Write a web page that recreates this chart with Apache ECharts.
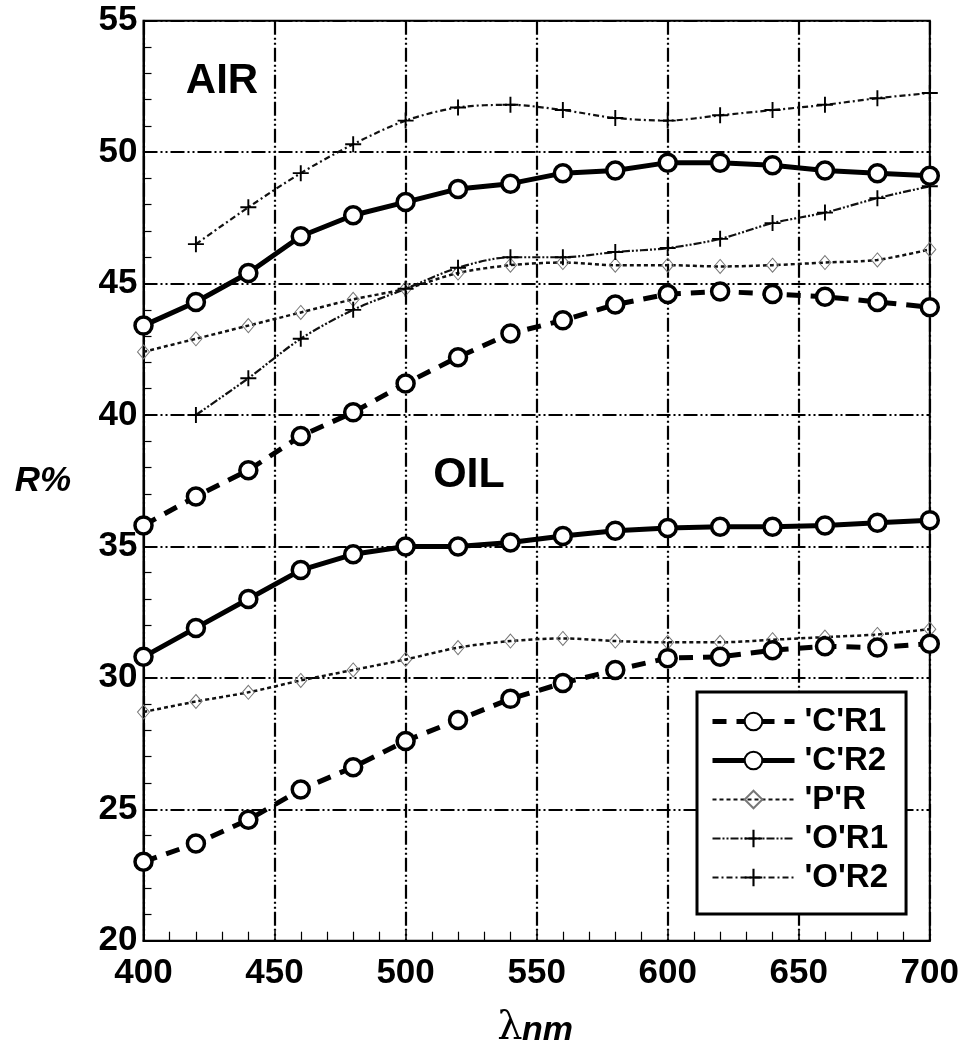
<!DOCTYPE html>
<html>
<head>
<meta charset="utf-8">
<script src="https://cdn.jsdelivr.net/npm/echarts@6/dist/echarts.min.js"></script>
<style>
  html, body { margin: 0; padding: 0; background: #fff; }
  #main { width: 962px; height: 1052px; }
</style>
</head>
<body>
<div id="main"></div>
<script>
// wavelength (nm)
const wavelengths = [400, 420, 440, 460, 480, 500, 520, 540, 560, 580, 600, 620, 640, 660, 680, 700];

// reflectance R% in air
const airC1 = [35.8, 36.9, 37.9, 39.2, 40.1, 41.2, 42.2, 43.1, 43.6, 44.2, 44.6, 44.7, 44.6, 44.5, 44.3, 44.1];
const airC2 = [43.4, 44.3, 45.4, 46.8, 47.6, 48.1, 48.6, 48.8, 49.2, 49.3, 49.6, 49.6, 49.5, 49.3, 49.2, 49.1];
const airP = [42.4, 42.9, 43.4, 43.9, 44.4, 44.8, 45.4, 45.7, 45.8, 45.7, 45.7, 45.65, 45.7, 45.8, 45.9, 46.3];
const airO1 = [null, 40.0, 41.4, 42.9, 44.0, 44.8, 45.6, 46.0, 46.0, 46.2, 46.35, 46.7, 47.3, 47.7, 48.25, 48.7];
const airO2 = [null, 46.5, 47.9, 49.2, 50.3, 51.2, 51.7, 51.8, 51.6, 51.3, 51.2, 51.4, 51.6, 51.8, 52.05, 52.25];

// reflectance R% in oil
const oilC1 = [23.0, 23.7, 24.6, 25.75, 26.6, 27.6, 28.4, 29.2, 29.8, 30.3, 30.75, 30.8, 31.05, 31.2, 31.15, 31.3];
const oilC2 = [30.8, 31.9, 33.0, 34.1, 34.7, 35.0, 35.0, 35.15, 35.4, 35.6, 35.7, 35.75, 35.75, 35.8, 35.9, 36.0];
const oilP = [28.7, 29.1, 29.45, 29.9, 30.3, 30.7, 31.15, 31.4, 31.5, 31.4, 31.35, 31.35, 31.45, 31.55, 31.65, 31.85];

const legendNames = ["'C'R1", "'C'R2", "'P'R", "'O'R1", "'O'R2"];

const FONT = 'Liberation Sans, Arial, Helvetica, sans-serif';
const PLUS = 'path://M4.4,0H5.6V4.4H10V5.6H5.6V10H4.4V5.6H0V4.4H4.4Z';

const DASH_C1 = [14, 10];
const DASH_P = [4, 3];
const DASH_O1 = [8, 2, 2, 2, 2, 2];
const DASH_O2 = [6, 3, 2, 3];

function pairs(ys) {
  return wavelengths.map((x, i) => [x, ys[i]]).filter(p => p[1] != null);
}

// thick lines with hollow circles
function circleLine(name, ys, dashed) {
  return {
    name: name, type: 'line', data: pairs(ys),
    symbol: 'circle', symbolSize: 17,
    lineStyle: { color: '#000', width: 5, type: dashed ? DASH_C1 : 'solid' },
    itemStyle: { color: '#fff', borderColor: '#000', borderWidth: 3.5 },
    emphasis: { disabled: true },
    z: 5
  };
}

// thin dotted line with diamonds
function diamondLine(name, ys) {
  return {
    name: name, type: 'line', data: pairs(ys), smooth: 0.3,
    symbol: 'diamond', symbolSize: [12, 14],
    lineStyle: { color: '#111', width: 2.5, type: DASH_P },
    itemStyle: { color: 'rgba(255,255,255,0)', borderColor: '#777', borderWidth: 1 },
    emphasis: { disabled: true },
    z: 4
  };
}

// thin dash-dot lines with plus marks
function plusLine(name, ys, dash) {
  return {
    name: name, type: 'line', data: pairs(ys), smooth: 0.3,
    symbol: PLUS, symbolSize: 16,
    lineStyle: { color: '#111', width: 2.2, type: dash },
    itemStyle: { color: '#000', borderWidth: 0 },
    emphasis: { disabled: true },
    z: 4
  };
}

const chart = echarts.init(document.getElementById('main'));

const option = {
  animation: false,
  backgroundColor: '#fff',
  grid: {
    left: 143.5, right: 28.5, top: 20.7, bottom: 111.3,
    show: true, borderColor: '#000', borderWidth: 2
  },
  xAxis: {
    type: 'value', min: 400, max: 700, interval: 50,
    axisLine: { show: true, lineStyle: { color: '#000', width: 2 } },
    axisTick: { inside: true, length: 10, lineStyle: { color: '#000', width: 1.5 } },
    minorTick: { show: true, splitNumber: 5, length: 9, lineStyle: { color: '#000', width: 1.2 } },
    splitLine: { show: true, lineStyle: { color: '#000', width: 2.2, type: [14, 3, 2, 3, 2, 3] } },
    axisLabel: { color: '#000', fontSize: 35, fontWeight: 'bold', fontFamily: FONT, margin: 15 }
  },
  yAxis: {
    type: 'value', min: 20, max: 55, interval: 5,
    axisLine: { show: true, lineStyle: { color: '#000', width: 2 } },
    axisTick: { inside: true, length: 9, lineStyle: { color: '#000', width: 1.5 } },
    minorTick: { show: true, splitNumber: 5, length: 8, lineStyle: { color: '#000', width: 1.2 } },
    splitLine: { show: true, lineStyle: { color: '#000', width: 2.2, type: [14, 3, 2, 3, 2, 3] } },
    axisLabel: { color: '#000', fontSize: 35, fontWeight: 'bold', fontFamily: FONT, margin: 6 }
  },
  legend: {
    data: [
      { name: legendNames[0], lineStyle: { width: 5, type: DASH_C1 } },
      { name: legendNames[1], lineStyle: { width: 5, type: 'solid' } },
      { name: legendNames[2], lineStyle: { width: 2, type: DASH_P } },
      { name: legendNames[3], lineStyle: { width: 2.2, type: DASH_O1 } },
      { name: legendNames[4], lineStyle: { width: 2, type: DASH_O2 } }
    ],
    orient: 'vertical', left: 697, top: 692,
    itemWidth: 82, itemHeight: 22, itemGap: 6,
    backgroundColor: '#fff', borderColor: '#000', borderWidth: 3, borderRadius: 0,
    padding: [13, 18, 20, 13],
    selectedMode: false,
    textStyle: { fontSize: 33, fontWeight: 'bold', color: '#000', fontFamily: FONT, lineHeight: 30, padding: [0, 0, 0, 5] }
  },
  graphic: [
    { type: 'text', x: 222, y: 81, style: { text: 'AIR', fill: '#000', font: 'bold 42px ' + FONT, textAlign: 'center', textVerticalAlign: 'middle' }, z: 10 },
    { type: 'text', x: 469, y: 475, style: { text: 'OIL', fill: '#000', font: 'bold 43px ' + FONT, textAlign: 'center', textVerticalAlign: 'middle' }, z: 10 },
    { type: 'text', x: 43, y: 481, style: { text: 'R%', fill: '#000', font: 'italic bold 35px ' + FONT, textAlign: 'center', textVerticalAlign: 'middle' }, z: 10 },
    { type: 'text', x: 510, y: 1029, style: { text: 'λ', fill: '#000', font: '40px "DejaVu Serif", "Liberation Serif", serif', textAlign: 'center', textVerticalAlign: 'middle' }, z: 10 },
    { type: 'text', x: 522, y: 1031, style: { text: 'nm', fill: '#000', font: 'italic bold 34px ' + FONT, textAlign: 'left', textVerticalAlign: 'middle' }, z: 10 }
  ],
  series: [
    circleLine("'C'R1", airC1, true),
    circleLine("'C'R2", airC2, false),
    diamondLine("'P'R", airP),
    plusLine("'O'R1", airO1, DASH_O1),
    plusLine("'O'R2", airO2, DASH_O2),
    circleLine("'C'R1", oilC1, true),
    circleLine("'C'R2", oilC2, false),
    diamondLine("'P'R", oilP)
  ]
};

chart.setOption(option);
window.onresize = function () { chart.resize(); };
</script>
</body>
</html>
